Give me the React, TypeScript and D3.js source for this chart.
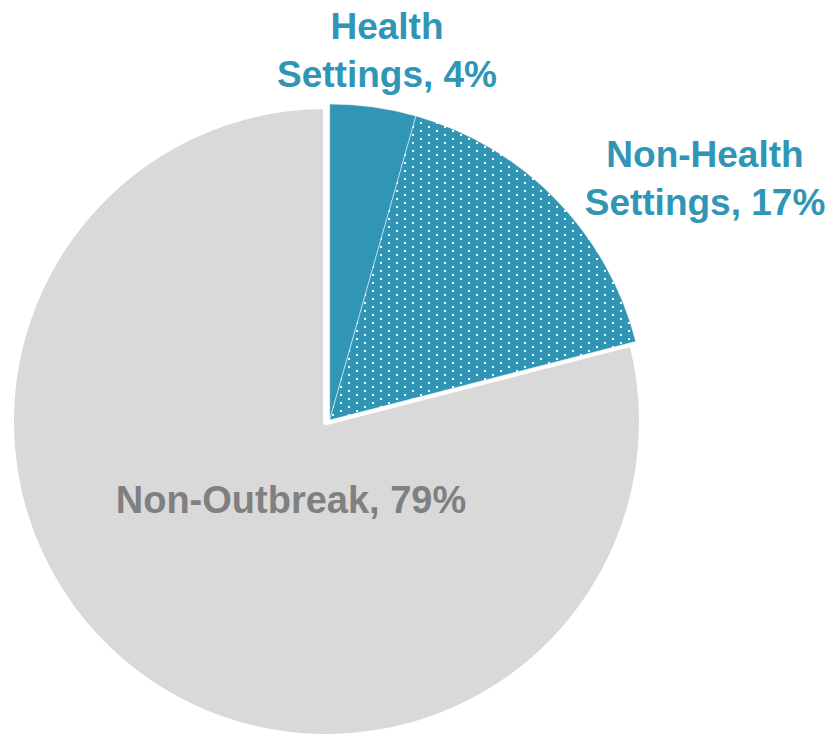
import React from "react";
import * as d3 from "d3";

const categories = ["Health Settings", "Non-Health Settings", "Non-Outbreak"];
const values = [4.4, 16.6, 79];
const labelLines = [["Health", "Settings, "], ["Non-Health", "Settings, "], ["Non-Outbreak, "]];

const W = 835;
const H = 734;
const R = 316;
const TEAL = "#3195B5";
const GRAY = "#D9D9D9";

export default function App() {
  const pie = d3.pie<number>().sort(null).value((d) => d)(values);
  const arc = d3.arc<d3.PieArcDatum<number>>().innerRadius(0).outerRadius(R);
  const total = d3.sum(values);
  const pct = values.map((v) => Math.round((v / total) * 100) + "%");

  const grayC = [326.5, 421.5];
  const blueC = [329.7, 420];

  const labelPos = [
    { x: 387, y: 39, color: TEAL },
    { x: 705, y: 167, color: TEAL },
    { x: 291, y: 513, color: "#808080" },
  ];

  return (
    <svg width={W} height={H} style={{ position: "absolute", left: 0, top: 0, background: "#fff" }}>
      <defs>
        <pattern id="dots" patternUnits="userSpaceOnUse" width={16} height={8} patternTransform="translate(0.3,0)">
          <rect width={16} height={8} fill={TEAL} />
          <rect x={2} y={2} width={2} height={2} fill="#fff" />
          <rect x={10} y={6} width={2} height={2} fill="#fff" />
        </pattern>
      </defs>
      <g transform={`translate(${grayC[0]},${grayC[1]})`}>
        <path d={arc(pie[2]) || ""} fill={GRAY} stroke="#fff" strokeWidth={7} strokeLinejoin="round" />
      </g>
      <g transform={`translate(${blueC[0]},${blueC[1]})`}>
        <path d={arc(pie[0]) || ""} fill={TEAL} stroke="#fff" strokeWidth={0.8} strokeOpacity={0.6} />
        <path d={arc(pie[1]) || ""} fill="url(#dots)" stroke="#fff" strokeWidth={0.8} strokeOpacity={0.6} />
      </g>
      {labelLines.map((lines, i) => (
        <text
          key={categories[i]}
          x={labelPos[i].x}
          y={labelPos[i].y}
          textAnchor="middle"
          fill={labelPos[i].color}
          fontFamily="'Liberation Sans', Arial, sans-serif"
          fontWeight="bold"
          fontSize={i === 2 ? 38 : 37}
        >
          {lines.map((ln, j) => (
            <tspan key={j} x={labelPos[i].x} dy={j === 0 ? 0 : 48}>
              {j === lines.length - 1 ? ln + pct[i] : ln}
            </tspan>
          ))}
        </text>
      ))}
    </svg>
  );
}
